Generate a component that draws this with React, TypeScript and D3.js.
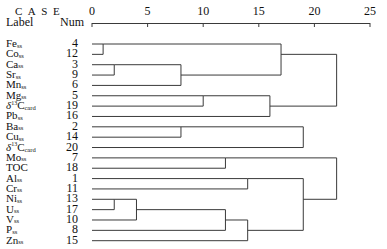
import * as d3 from 'd3';

// leaf order, top to bottom
const labels = ['Fe', 'Co', 'Ca', 'Sr', 'Mn', 'Mg', 'δ13C', 'Pb', 'Ba', 'Cu', 'δ13C', 'Mo', 'TOC', 'Al', 'Cr', 'Ni', 'U', 'V', 'P', 'Zn'];
const subs = ['ss', 'ss', 'ss', 'ss', 'ss', 'ss', 'card', 'ss', 'ss', 'ss', 'card', 'ss', '', 'ss', 'ss', 'ss', 'ss', 'ss', 'ss', 'ss'];
const nums = [4, 12, 3, 9, 6, 5, 19, 16, 2, 14, 20, 7, 18, 1, 11, 13, 17, 10, 8, 15];

// merges: [childA, childB, distance]; leaves are 0..19, new clusters get 20, 21, ...
const merges: [number, number, number][] = [
  [0, 1, 1],
  [2, 3, 2],
  [15, 16, 2],
  [22, 17, 4],
  [21, 4, 8],
  [8, 9, 8],
  [5, 6, 10],
  [11, 12, 12],
  [23, 18, 12],
  [13, 14, 14],
  [28, 19, 14],
  [26, 7, 16],
  [20, 24, 17],
  [25, 10, 19],
  [29, 30, 19],
  [32, 31, 22],
  [27, 34, 22],
];

const axisTicks = [0, 5, 10, 15, 20, 25];

const W = 387;
const H = 249;
const font = '"Liberation Serif", "Times New Roman", serif';
const ink = '#3a3a3a';

export default function App() {
  const x = d3.scaleLinear().domain([0, 25]).range([92, 370]);
  const y = d3.scaleLinear().domain([0, labels.length - 1]).range([44, 240.7]);

  // node positions: row index and height
  const row: number[] = labels.map((_, i) => i);
  const hgt: number[] = labels.map(() => 0);
  const segs: string[] = [];
  merges.forEach(([a, b, d], k) => {
    const id = labels.length + k;
    const path = d3.path();
    for (const c of [a, b]) {
      path.moveTo(x(hgt[c]), y(row[c]));
      path.lineTo(x(d), y(row[c]));
    }
    path.moveTo(x(d), y(row[a]));
    path.lineTo(x(d), y(row[b]));
    segs.push(path.toString());
    row[id] = Math.floor((row[a] + row[b]) / 2);
    hgt[id] = d;
  });

  return (
    <svg width={W} height={H} style={{ position: 'absolute', left: 0, top: 0, background: '#fff' }} fontFamily={font}>
      <text x={15} y={15} fontSize={11} letterSpacing={5.5} fill="#111">CASE</text>
      <text x={6} y={26} fontSize={12} fill="#111">Label</text>
      <text x={84} y={26} fontSize={12} textAnchor="end" fill="#111">Num</text>

      {axisTicks.map((t) => (
        <g key={t}>
          <text x={x(t)} y={15} fontSize={12} textAnchor="middle" fill="#111">{t}</text>
          <line x1={x(t)} x2={x(t)} y1={23} y2={27} stroke={ink} />
        </g>
      ))}
      <line x1={x(0)} x2={x(25)} y1={23.5} y2={23.5} stroke={ink} />

      {labels.map((l, i) => {
        const yy = y(i) + 3;
        if (l.startsWith('δ')) {
          return (
            <text key={i} x={6} y={yy} fontSize={11} fill="#111">
              <tspan fontStyle="italic">δ</tspan>
              <tspan fontSize={6} dy={-4.5}>13</tspan>
              <tspan dy={4.5}>C</tspan>
              <tspan fontSize={6.5} dy={1}>{subs[i]}</tspan>
            </text>
          );
        }
        return (
          <text key={i} x={6} y={yy} fontSize={11} fill="#111">
            {l}
            {subs[i] && <tspan fontSize={6.5} dy={0.5}>{subs[i]}</tspan>}
          </text>
        );
      })}

      {nums.map((n, i) => (
        <text key={i} x={78} y={y(i) + 3} fontSize={12} textAnchor="end" fill="#111">{n}</text>
      ))}

      {segs.map((d, i) => (
        <path key={i} d={d} fill="none" stroke={ink} strokeWidth={1} />
      ))}
    </svg>
  );
}
